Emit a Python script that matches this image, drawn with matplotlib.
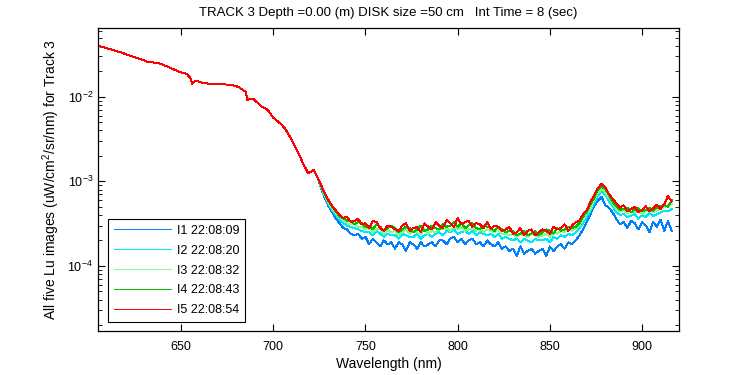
import matplotlib
matplotlib.use("Agg")
import matplotlib.pyplot as plt
import numpy as np
from matplotlib.ticker import LogLocator, NullFormatter

plt.rcParams["font.family"] = ["Liberation Sans", "DejaVu Sans"]
plt.rcParams["mathtext.default"] = "regular"

# Lu in units of 1e-4 uW/cm^2/sr/nm
lu_unit = 1e-4

# smooth part, all five images lie on top of each other
wl_smooth = [605, 611, 618, 626, 632, 638, 643, 649, 653, 655, 656, 658, 662, 666,
             677, 681, 685, 686, 689, 691, 694, 697, 700, 704, 706, 708, 710, 713,
             716, 719, 722, 724]
lu_smooth = [400, 369, 331, 288, 259, 250, 226, 197, 187, 168, 142, 155, 146, 142,
             139, 131, 115, 92, 95, 87, 76, 70, 56.5, 48, 43, 37, 31, 23,
             16.6, 12.4, 13.6, 11.2]

# noisy part, 726..916 nm every 2 nm
wl_noisy = np.arange(726, 917, 2)
lu_i1 = [8.2, 6.3, 5.1, 4.3, 3.6, 3.2, 2.8, 2.7, 2.4, 2.3,
         2.4, 2.1, 2.2, 1.8, 2.1, 1.9, 1.7, 2.0, 1.8, 1.9,
         1.6, 1.9, 1.8, 1.5, 1.9, 1.8, 1.6, 1.9, 1.7, 1.8,
         1.9, 1.7, 2.0, 2.0, 1.8, 2.1, 2.2, 1.9, 2.1, 1.8,
         2.0, 2.1, 1.8, 1.9, 1.7, 2.0, 1.8, 1.7, 1.9, 1.6,
         1.7, 1.5, 1.6, 1.3, 1.7, 1.4, 1.5, 1.6, 1.4, 1.5,
         1.6, 1.3, 1.7, 1.5, 1.7, 1.8, 1.6, 1.9, 1.8, 2.0,
         2.3, 2.7, 3.3, 4.1, 5.1, 5.9, 6.6, 5.2, 4.9, 4.3,
         3.6, 3.1, 3.3, 2.8, 3.4, 3.2, 2.7, 3.3, 3.0, 2.5,
         3.3, 2.9, 3.5, 2.6, 3.4, 2.6]
lu_i2 = [8.4, 6.6, 5.4, 4.6, 4.0, 3.5, 3.2, 3.0, 2.9, 2.8,
         2.7, 2.6, 2.5, 2.5, 2.3, 2.6, 2.4, 2.2, 2.4, 2.3,
         2.3, 2.1, 2.4, 2.3, 2.2, 2.2, 2.4, 2.1, 2.3, 2.4,
         2.2, 2.4, 2.5, 2.3, 2.6, 2.5, 2.7, 2.4, 2.5, 2.6,
         2.4, 2.6, 2.3, 2.5, 2.4, 2.3, 2.4, 2.2, 2.4, 2.1,
         2.2, 2.1, 2.0, 2.1, 1.9, 2.1, 2.0, 1.9, 2.1, 2.0,
         2.0, 2.1, 1.9, 2.2, 2.1, 2.3, 2.2, 2.4, 2.3, 2.5,
         2.8, 3.2, 3.8, 4.5, 5.6, 6.7, 7.6, 7.0, 5.8, 5.1,
         4.3, 4.0, 4.1, 3.8, 3.9, 4.1, 3.6, 4.0, 3.8, 4.2,
         3.9, 4.1, 4.3, 4.5, 4.4, 4.7]
lu_i3 = [8.6, 6.8, 5.6, 4.8, 4.2, 3.7, 3.5, 3.2, 3.1, 3.1,
         2.9, 2.9, 2.7, 2.8, 2.5, 2.7, 2.7, 2.4, 2.6, 2.5,
         2.6, 2.3, 2.5, 2.7, 2.4, 2.6, 2.5, 2.4, 2.7, 2.4,
         2.6, 2.5, 2.7, 2.7, 2.8, 2.6, 2.9, 2.7, 2.9, 2.6,
         2.7, 2.8, 2.6, 2.8, 2.5, 2.7, 2.6, 2.5, 2.7, 2.4,
         2.4, 2.3, 2.4, 2.2, 2.4, 2.3, 2.2, 2.4, 2.3, 2.2,
         2.3, 2.4, 2.2, 2.5, 2.4, 2.6, 2.5, 2.7, 2.6, 2.8,
         3.0, 3.5, 4.2, 4.8, 6.0, 7.3, 8.1, 7.5, 6.4, 5.5,
         4.7, 4.4, 4.5, 4.2, 4.4, 4.3, 4.6, 4.1, 4.4, 4.5,
         4.3, 4.6, 4.7, 5.0, 5.1, 5.4]
lu_i4 = [8.8, 7.0, 5.8, 5.0, 4.4, 3.8, 3.7, 3.4, 3.4, 3.1,
         3.3, 3.2, 2.9, 3.0, 2.7, 3.1, 2.9, 2.6, 2.8, 3.0,
         2.8, 2.5, 2.7, 2.9, 2.8, 2.5, 2.7, 3.0, 2.6, 2.7,
         3.0, 2.8, 2.7, 3.1, 2.9, 3.0, 3.3, 2.9, 3.2, 2.8,
         3.0, 3.2, 2.8, 2.7, 3.0, 2.9, 2.8, 2.6, 2.9, 2.7,
         2.5, 2.6, 2.6, 2.3, 2.4, 2.6, 2.3, 2.4, 2.6, 2.3,
         2.5, 2.7, 2.6, 2.4, 2.8, 2.6, 2.7, 2.9, 2.8, 2.9,
         3.2, 3.8, 4.4, 5.3, 6.4, 7.9, 8.6, 8.1, 6.9, 5.7,
         5.1, 4.6, 4.7, 4.9, 4.3, 4.6, 4.8, 4.4, 4.6, 4.9,
         4.5, 4.9, 5.1, 5.3, 5.0, 6.0]
lu_i5 = [9.0, 7.2, 6.0, 5.1, 4.5, 4.0, 3.7, 3.8, 3.3, 3.4,
         3.6, 3.1, 3.2, 2.8, 3.4, 3.3, 2.8, 2.6, 3.0, 2.9,
         2.7, 2.6, 3.0, 3.2, 2.6, 2.8, 2.9, 2.5, 3.2, 2.9,
         2.7, 3.3, 3.0, 2.8, 3.5, 3.2, 2.9, 3.7, 3.1, 3.3,
         3.4, 2.9, 3.2, 3.1, 2.8, 3.3, 2.7, 3.0, 2.9, 2.6,
         2.7, 2.9, 2.4, 2.5, 2.8, 2.3, 2.6, 2.7, 2.3, 2.5,
         2.7, 2.6, 2.4, 2.9, 2.7, 2.8, 3.1, 2.6, 3.0, 3.3,
         3.4, 4.1, 4.6, 5.7, 6.9, 8.3, 9.3, 8.6, 7.1, 6.2,
         5.5, 4.9, 5.2, 4.4, 4.7, 5.0, 4.3, 4.6, 5.1, 4.4,
         4.8, 5.3, 4.7, 5.4, 6.7, 5.8]

labels = ["I1 22:08:09", "I2 22:08:20", "I3 22:08:32", "I4 22:08:43", "I5 22:08:54"]
colors = ["#0080ff", "#00e6ff", "#80ff80", "#00c000", "#ff0000"]
series = [lu_i1, lu_i2, lu_i3, lu_i4, lu_i5]

fig = plt.figure(figsize=(7.5, 3.75), dpi=100)
ax = fig.add_axes([0.1307, 0.1173, 0.7746, 0.808])

wl = np.concatenate([wl_smooth, wl_noisy])
for vals, col, lab in zip(series, colors, labels):
    lu = np.concatenate([lu_smooth, vals]) * lu_unit
    ax.plot(wl, lu, color=col, lw=0.7, antialiased=False, label=lab)

ax.set_yscale("log")
ax.set_xlim(605, 920)
ax.set_ylim(1.7e-5, 0.065)
ax.set_xticks([650, 700, 750, 800, 850, 900])
ax.yaxis.set_major_locator(LogLocator(base=10, numticks=10))
ax.yaxis.set_minor_locator(LogLocator(base=10, subs=np.arange(2, 10), numticks=20))
ax.yaxis.set_minor_formatter(NullFormatter())
ax.tick_params(which="both", direction="in", top=True, right=True, labelsize=9)
ax.tick_params(which="major", length=5, width=0.8)
ax.tick_params(which="minor", length=3, width=0.6)
ax.tick_params(axis="x", pad=7)
for sp in ax.spines.values():
    sp.set_linewidth(0.9)

ax.set_xlabel("Wavelength (nm)", fontsize=10, labelpad=3)
ax.set_ylabel("All five Lu images (uW/cm$^2$/sr/nm) for Track 3", fontsize=10)
ax.set_title("TRACK 3 Depth =0.00 (m) DISK size =50 cm   Int Time = 8 (sec)",
             fontsize=9.5, pad=9)

leg = ax.legend(loc="lower left", bbox_to_anchor=(0.017, 0.03), borderaxespad=0,
                fontsize=9, frameon=True, fancybox=False, edgecolor="black",
                framealpha=1, handlelength=4.6, handletextpad=0.5,
                labelspacing=0.63, borderpad=0.45)
leg.get_frame().set_linewidth(0.8)

fig.savefig("out.png", dpi=100)
